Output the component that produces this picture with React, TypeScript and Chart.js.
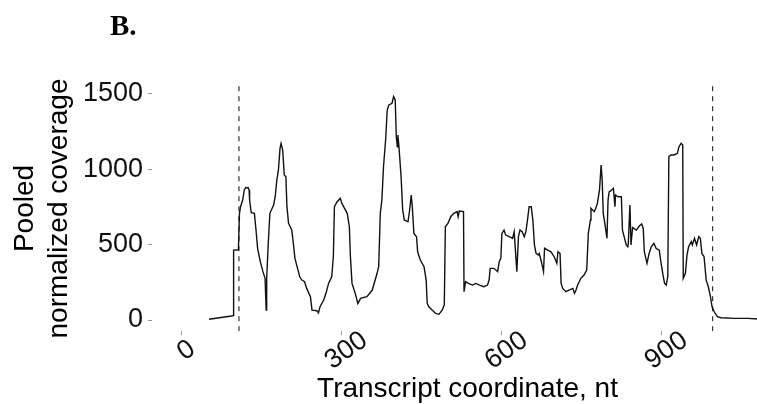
import React, { useEffect, useRef } from 'react';
import { Chart, registerables } from 'chart.js';

Chart.register(...registerables);

// Transcript position (nt) and pooled normalized coverage
const positions = [
  51, 93, 96, 97, 106, 108, 110, 114, 117, 120, 122, 124, 126, 127, 130, 136, 139, 142, 147, 152,
  156, 158, 159, 162, 165, 172, 175, 178, 181, 184, 186, 189, 192, 195, 197, 200, 206, 209, 212, 216,
  221, 225, 230, 234, 241, 244, 253, 256, 259, 266, 271, 275, 281, 284, 286, 291, 297, 300, 305, 310,
  314, 316, 319, 325, 330, 335, 347, 357, 366, 369, 372, 375, 378, 382, 385, 388, 394, 397, 400, 402,
  404, 405, 407, 411, 414, 417, 424, 427, 430, 432, 435, 440, 442, 447, 454, 458, 460, 463, 469, 476,
  482, 488, 492, 494, 499, 504, 510, 516, 518, 520, 528, 529, 532, 537, 545, 551, 558, 566, 573, 576,
  578, 585, 592, 595, 598, 600, 604, 607, 614, 620, 623, 628, 631, 634, 638, 642, 645, 648, 651, 655,
  658, 661, 664, 668, 670, 674, 678, 680, 686, 692, 698, 703, 705, 709, 711, 714, 720, 726, 733, 736,
  739, 742, 748, 754, 759, 762, 766, 767, 773, 776, 779, 783, 786, 788, 790, 793, 797, 799, 801, 805,
  809, 812, 813, 818, 824, 826, 833, 836, 837, 840, 842, 845, 852, 858, 862, 865, 867, 872, 876, 880,
  885, 889, 895, 898, 902, 905, 908, 911, 913, 917, 923, 929, 932, 936, 939, 940, 944, 947, 950, 955,
  957, 961, 965, 969, 972, 975, 979, 983, 987, 991, 994, 998, 1004, 1011, 1036, 1061, 1080,
];
const coverage = [
  5, 27, 30, 464, 466, 708, 752, 796, 863, 880, 876, 880, 863, 796, 712, 708, 597, 476, 387, 321,
  277, 66, 277, 509, 708, 763, 818, 929, 995, 1139, 1172, 1128, 962, 951, 752, 642, 597, 509, 409, 354,
  287, 265, 254, 210, 155, 66, 62, 48, 88, 133, 188, 243, 287, 420, 752, 785, 807, 774, 741, 708,
  619, 420, 243, 177, 110, 144, 155, 199, 310, 354, 708, 796, 1017, 1194, 1393, 1427, 1438, 1482, 1460, 1216,
  1150, 1228, 1150, 951, 730, 664, 652, 730, 829, 752, 575, 553, 453, 398, 354, 265, 110, 88, 66, 44,
  38, 66, 100, 619, 642, 686, 708, 719, 686, 723, 719, 188, 254, 243, 232, 243, 232, 221, 232, 265,
  343, 343, 321, 387, 409, 575, 597, 564, 553, 542, 586, 321, 553, 597, 586, 553, 586, 664, 752, 752,
  664, 498, 442, 431, 442, 387, 321, 476, 464, 453, 420, 376, 453, 442, 243, 210, 188, 199, 210, 177,
  199, 232, 277, 299, 332, 575, 664, 741, 719, 741, 774, 863, 1029, 929, 708, 640, 542, 796, 850, 860,
  874, 752, 829, 818, 818, 597, 500, 486, 509, 763, 498, 614, 597, 625, 637, 608, 453, 376, 442, 486,
  509, 476, 464, 387, 299, 243, 232, 287, 1084, 1095, 1095, 1106, 1150, 1172, 1161, 277, 310, 431, 486, 520,
  498, 542, 498, 553, 542, 442, 420, 265, 221, 155, 88, 55, 22, 15, 11, 11, 7,
];

// CDS boundaries (dashed lines)
const cdsBounds = [107, 995];

const xTicks = [0, 300, 600, 900];
const yTicks = [0, 500, 1000, 1500];
const xRange = [-56, 1127];
const yRange = [-74, 1554];

const panelLabel = 'B.';
const xTitle = 'Transcript coordinate, nt';
const yTitle = ['Pooled', 'normalized coverage'];

const FONT = '"Liberation Sans", Arial, sans-serif';

export default function App() {
  const ref = useRef<HTMLCanvasElement | null>(null);

  useEffect(() => {
    const canvas = ref.current;
    if (!canvas) return;

    const lineData = positions.map((p, i) => ({ x: p, y: coverage[i] }));
    const vlineSets = cdsBounds.map((b) => ({
      data: [
        { x: b, y: yRange[0] },
        { x: b, y: yRange[1] },
      ],
      borderColor: '#333333',
      borderWidth: 1.2,
      borderDash: [5, 5],
      pointRadius: 0,
      tension: 0,
      fill: false,
    }));

    const labelPlugin = {
      id: 'panelLabel',
      afterDraw(chart: any) {
        const ctx = chart.ctx;
        ctx.save();
        ctx.font = 'bold 29px "Liberation Serif", "Times New Roman", serif';
        ctx.fillStyle = '#000';
        ctx.textAlign = 'left';
        ctx.textBaseline = 'alphabetic';
        ctx.fillText(panelLabel, 110, 35);
        ctx.restore();
      },
    };

    const chart = new Chart(canvas, {
      type: 'line',
      data: {
        datasets: [
          {
            data: lineData,
            borderColor: '#111111',
            borderWidth: 1.4,
            pointRadius: 0,
            tension: 0,
            fill: false,
          },
          ...vlineSets,
        ] as any,
      },
      options: {
        responsive: false,
        animation: false,
        devicePixelRatio: 1,
        layout: { padding: { top: 85.8, right: 17, left: 0, bottom: 0 } },
        plugins: {
          legend: { display: false },
          tooltip: { enabled: false },
          title: { display: false },
        },
        scales: {
          x: {
            type: 'linear',
            min: xRange[0],
            max: xRange[1],
            afterBuildTicks: (scale: any) => {
              scale.ticks = xTicks.map((v) => ({ value: v }));
            },
            afterFit: (scale: any) => {
              scale.height = 72.8;
            },
            ticks: {
              autoSkip: false,
              minRotation: 35,
              maxRotation: 35,
              labelOffset: 23,
              padding: -8.5,
              color: '#111111',
              font: { family: FONT, size: 27, lineHeight: 1 },
              callback: (v: any) => (String(v).length === 1 ? String(v) + '  ' : String(v)),
            },
            grid: {
              drawOnChartArea: false,
              drawTicks: true,
              tickLength: 4,
              color: '#9a9a9a',
            },
            border: { display: false },
            title: {
              display: true,
              text: xTitle,
              color: '#000000',
              font: { family: FONT, size: 28, lineHeight: 1 },
              padding: { top: 0, bottom: 1.2 },
            },
          },
          y: {
            type: 'linear',
            min: yRange[0],
            max: yRange[1],
            afterBuildTicks: (scale: any) => {
              scale.ticks = yTicks.map((v) => ({ value: v }));
            },
            afterFit: (scale: any) => {
              scale.width = 152;
            },
            ticks: {
              autoSkip: false,
              padding: 5,
              color: '#111111',
              font: { family: FONT, size: 27 },
              callback: (v: any) => String(v),
            },
            grid: {
              drawOnChartArea: false,
              drawTicks: true,
              tickLength: 4,
              color: '#9a9a9a',
            },
            border: { display: false },
            title: {
              display: true,
              text: yTitle,
              color: '#000000',
              font: { family: FONT, size: 28, lineHeight: 1.21 },
              padding: { top: 8.3, bottom: 0 },
            },
          },
        },
      } as any,
      plugins: [labelPlugin],
    });

    return () => chart.destroy();
  }, []);

  return (
    <div
      style={{
        position: 'fixed',
        left: 0,
        top: 0,
        width: 757,
        height: 404,
        overflow: 'hidden',
        background: '#ffffff',
      }}
    >
      <canvas ref={ref} width={800} height={404} style={{ display: 'block', width: 800, height: 404 }} />
    </div>
  );
}
